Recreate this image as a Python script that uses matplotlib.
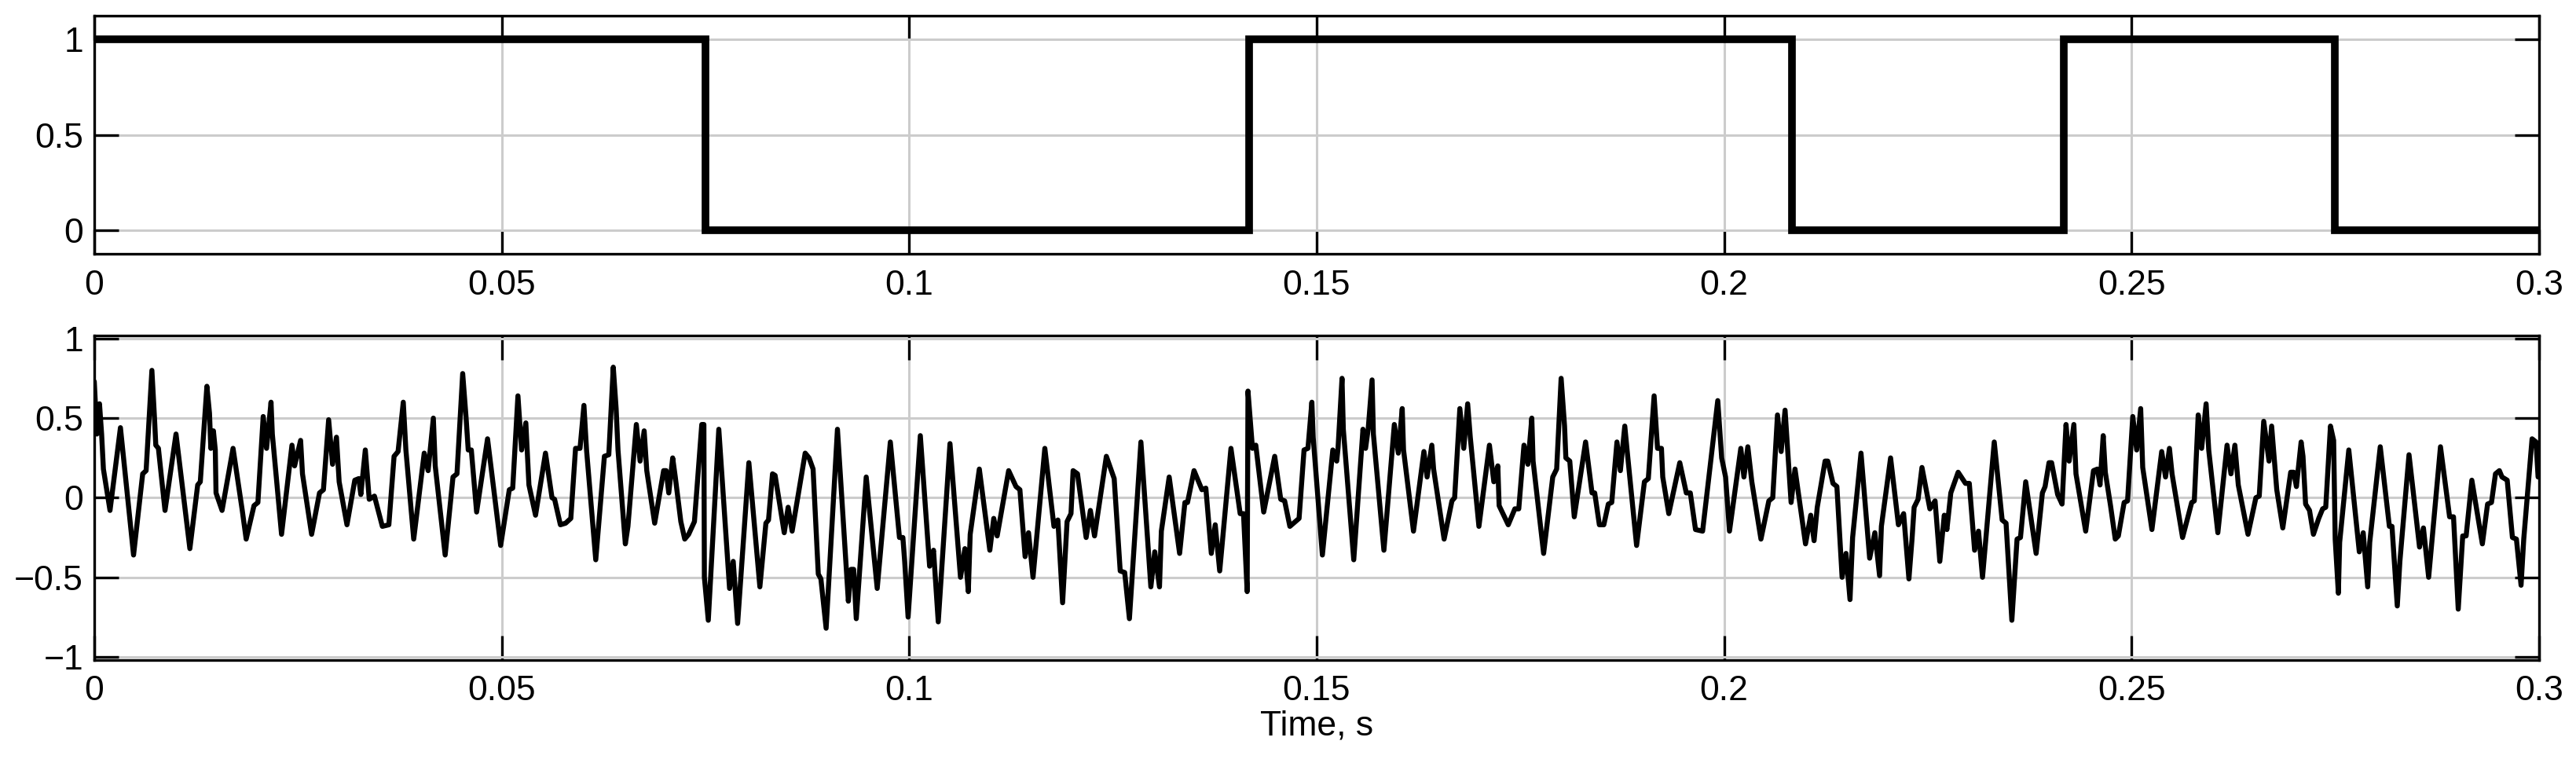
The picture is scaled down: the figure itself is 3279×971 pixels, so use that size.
import numpy as np
import matplotlib
matplotlib.use('Agg')
import matplotlib.pyplot as plt
import matplotlib.ticker as mticker

plt.rcParams.update({
    'font.family':      ['Liberation Sans', 'DejaVu Sans'],
    'font.size':        32,
    'axes.linewidth':   2.4,
    'axes.edgecolor':   'black',
    'grid.color':       '#cccccc',
    'grid.linewidth':   2.2,
    'xtick.direction':  'in',
    'ytick.direction':  'in',
    'xtick.major.size': 22,
    'ytick.major.size': 22,
    'xtick.major.width': 2.4,
    'ytick.major.width': 2.4,
})

# ─── Data ─────────────────────────────────────────────────────────────────────
# bit sequence (top panel), edges in seconds
bit_edges = [0, 0.075, 0.1417, 0.2083, 0.2417, 0.275, 0.3]
bit_levels = [1, 0, 1, 0, 1, 0]

# received signal (bottom panel), time in ms
sig_t_a = [0, 0.32, 0.64, 0.90, 1.12, 1.93, 3.21, 4.82, 5.94, 6.36,
           7.07, 7.39, 7.55, 7.87, 8.68, 10.03, 11.73, 12.69, 13.01, 13.82,
           14.14, 14.30, 14.62, 14.85, 14.94, 15.68, 17.03, 18.16, 18.64, 19.60,
           20.08, 20.73, 21.14, 21.69, 21.85, 22.98, 24.26, 24.58, 25.32, 25.55,
           26.67, 27.64, 28.12]
sig_v_a = [0.73, 0.40, 0.59, 0.40, 0.18, -0.08, 0.44, -0.36, 0.15, 0.17,
           0.80, 0.50, 0.33, 0.31, -0.08, 0.40, -0.32, 0.08, 0.10, 0.70,
           0.53, 0.31, 0.42, 0.30, 0.03, -0.08, 0.31, -0.08, -0.26, -0.05,
           -0.03, 0.51, 0.31, 0.60, 0.40, -0.23, 0.33, 0.20, 0.36, 0.15,
           -0.23, 0.03, 0.05]

sig_t_b = [28.76, 29.24, 29.72, 30.05, 31.01, 31.97, 32.46, 32.71, 33.26, 33.74,
           34.38, 35.35, 36.15, 36.79, 37.28, 37.92, 38.24, 39.20, 40.49, 40.97,
           41.61, 41.84, 43.06, 44.02, 44.51, 45.21, 45.63, 45.89, 46.27, 46.92,
           48.26, 49.87, 50.93, 51.35, 51.99, 52.44, 52.96, 53.34, 54.15, 55.37,
           56.17, 56.49, 57.20]
sig_v_b = [0.49, 0.21, 0.38, 0.10, -0.17, 0.11, 0.12, 0.02, 0.30, -0.01,
           0.01, -0.18, -0.17, 0.26, 0.29, 0.60, 0.30, -0.26, 0.28, 0.17,
           0.50, 0.20, -0.36, 0.13, 0.15, 0.78, 0.50, 0.30, 0.30, -0.09,
           0.37, -0.30, 0.05, 0.06, 0.64, 0.30, 0.47, 0.08, -0.11, 0.28,
           0.0, -0.01, -0.17]

sig_t_c = [57.84, 58.48, 59.06, 59.61, 60.09, 60.41, 61.54, 62.60, 63.14, 63.69,
           64.04, 64.27, 65.17, 65.49, 66.52, 66.98, 67.48, 67.80, 68.77, 69.87,
           70.18, 70.50, 70.98, 71.30, 71.98, 72.46, 72.94, 73.65, 74.55, 74.81,
           74.87, 75.35, 76.64, 77.96, 78.41, 78.95, 80.33, 81.68, 82.42, 82.74,
           83.23, 83.55, 84.67, 85.15, 85.64, 87.24]
sig_v_c = [-0.16, -0.13, 0.31, 0.31, 0.58, 0.30, -0.39, 0.26, 0.27, 0.82,
           0.56, 0.30, -0.29, -0.18, 0.46, 0.23, 0.42, 0.17, -0.16, 0.17,
           0.17, 0.03, 0.25, 0.13, -0.15, -0.26, -0.23, -0.15, 0.46, 0.46,
           -0.50, -0.77, 0.43, -0.57, -0.40, -0.79, 0.22, -0.56, -0.16, -0.14,
           0.15, 0.14, -0.22, -0.06, -0.21, 0.28]

sig_t_d = [87.72, 88.21, 88.85, 89.17, 89.81, 91.20, 92.54, 92.87, 93.19, 93.51,
           94.73, 96.08, 97.69, 98.81, 99.23, 99.45, 99.87, 101.37, 102.51, 102.99,
           103.57, 105.01, 106.30, 106.84, 107.26, 107.49, 108.61, 109.90, 110.38, 110.80,
           112.21, 113.11, 113.59, 114.23, 114.65, 115.20, 116.65, 117.77]
sig_v_d = [0.25, 0.18, -0.48, -0.51, -0.82, 0.43, -0.65, -0.45, -0.45, -0.76,
           0.13, -0.57, 0.35, -0.25, -0.25, -0.40, -0.75, 0.39, -0.43, -0.33,
           -0.78, 0.34, -0.50, -0.32, -0.59, -0.23, 0.18, -0.33, -0.13, -0.24,
           0.17, 0.07, 0.05, -0.37, -0.22, -0.50, 0.31, -0.18]

sig_t_e = [118.25, 118.83, 119.38, 119.86, 120.12, 120.66, 121.72, 122.24, 122.75, 124.20,
           125.16, 125.90, 126.45, 127.03, 128.44, 129.66, 130.14, 130.72, 130.95, 131.91,
           133.19, 133.84, 134.16, 134.96, 135.93, 136.41, 137.08, 137.56, 138.11, 139.49,
           140.62, 141.03, 141.48, 141.58, 142.13, 142.54, 143.51, 144.86, 145.60, 146.08,
           146.72, 147.85]
sig_v_e = [-0.14, -0.66, -0.15, -0.10, 0.17, 0.15, -0.25, -0.08, -0.24, 0.26,
           0.12, -0.46, -0.47, -0.76, 0.35, -0.56, -0.34, -0.56, -0.21, 0.13,
           -0.35, -0.03, -0.03, 0.17, 0.05, 0.06, -0.35, -0.17, -0.46, 0.31,
           -0.10, -0.10, -0.59, 0.67, 0.31, 0.33, -0.09, 0.26, -0.01, -0.02,
           -0.18, -0.13]

sig_t_f = [148.46, 148.94, 149.42, 149.58, 150.71, 151.99, 152.47, 152.63, 153.12, 153.28,
           154.56, 155.69, 156.01, 156.33, 156.81, 156.97, 158.26, 159.54, 160.03, 160.51,
           160.67, 161.89, 163.17, 163.56, 164.14, 164.36, 165.65, 166.61, 166.94, 167.58,
           168.06, 168.54, 168.86, 169.92, 171.21, 171.75, 172.24, 172.40, 173.52, 174.33,
           174.81, 175.45, 175.93, 176.41, 176.57, 177.86]
sig_v_f = [0.30, 0.31, 0.60, 0.38, -0.36, 0.30, 0.23, 0.31, 0.75, 0.43,
           -0.39, 0.43, 0.31, 0.43, 0.74, 0.40, -0.33, 0.46, 0.28, 0.56,
           0.30, -0.21, 0.29, 0.13, 0.33, 0.18, -0.26, -0.02, 0.0, 0.56,
           0.31, 0.59, 0.38, -0.18, 0.33, 0.10, 0.20, -0.05, -0.17, -0.07,
           -0.07, 0.33, 0.21, 0.50, 0.23, -0.35]

sig_t_g = [178.98, 179.46, 180.01, 180.43, 180.59, 181.07, 181.62, 183.01, 183.80, 184.13,
           184.70, 185.25, 185.80, 186.22, 186.86, 187.28, 187.82, 188.14, 189.27, 190.23,
           190.71, 191.42, 191.84, 192.32, 192.48, 193.22, 194.57, 195.37, 195.86, 196.50,
           197.37, 198.43, 199.23, 199.71, 200.19, 200.67, 202.06, 202.44, 202.92, 203.41,
           204.53, 205.50, 205.98, 206.56, 207.01, 207.49, 207.90, 208.23, 208.71]
sig_v_g = [0.13, 0.18, 0.75, 0.45, 0.25, 0.23, -0.12, 0.35, 0.03, 0.03,
           -0.17, -0.17, -0.04, -0.03, 0.35, 0.17, 0.45, 0.28, -0.30, 0.10,
           0.12, 0.64, 0.31, 0.31, 0.13, -0.10, 0.22, 0.03, 0.03, -0.20,
           -0.21, 0.26, 0.61, 0.25, 0.13, -0.21, 0.31, 0.13, 0.32, 0.10,
           -0.26, -0.02, 0.0, 0.52, 0.29, 0.55, 0.23, -0.03, 0.18]

sig_t_h = [210.00, 210.64, 211.05, 211.44, 212.40, 212.73, 213.37, 213.85, 214.49, 214.97,
           215.46, 215.78, 216.81, 217.87, 218.51, 219.09, 219.31, 220.44, 221.40, 222.04,
           222.69, 223.07, 223.33, 223.81, 224.29, 225.26, 225.90, 226.48, 227.03, 227.35,
           227.83, 228.73, 229.63, 230.10, 230.75, 231.23, 231.72, 233.16, 234.13, 234.61,
           235.32, 235.96, 236.38, 237.02, 238.30]
sig_v_h = [-0.29, -0.11, -0.27, -0.06, 0.23, 0.23, 0.09, 0.07, -0.50, -0.35,
           -0.64, -0.25, 0.28, -0.38, -0.22, -0.49, -0.18, 0.25, -0.17, -0.10,
           -0.51, -0.26, -0.06, -0.01, 0.19, -0.07, -0.02, -0.40, -0.11, -0.20,
           0.03, 0.16, 0.09, 0.09, -0.33, -0.21, -0.50, 0.35, -0.14, -0.16,
           -0.77, -0.26, -0.25, 0.10, -0.35]

sig_t_i = [239.07, 239.40, 239.88, 240.20, 240.94, 241.48, 241.97, 242.35, 242.93, 243.19,
           244.38, 245.34, 245.82, 246.14, 246.53, 246.79, 247.43, 248.01, 248.39, 249.10,
           249.52, 250.16, 250.64, 251.13, 251.38, 252.51, 253.71, 254.18, 254.66, 254.98,
           256.27, 257.39, 257.71, 258.19, 258.61, 259.16, 259.48, 260.60, 261.73, 262.21,
           262.69, 263.11, 264.30, 265.27, 265.68, 266.23, 266.88, 267.20]
sig_v_i = [0.03, 0.07, 0.22, 0.22, 0.02, -0.04, 0.46, 0.23, 0.46, 0.15,
           -0.21, 0.17, 0.18, 0.08, 0.39, 0.16, -0.05, -0.26, -0.24, -0.03,
           -0.02, 0.51, 0.30, 0.56, 0.19, -0.20, 0.29, 0.13, 0.31, 0.15,
           -0.25, -0.03, -0.02, 0.52, 0.31, 0.59, 0.30, -0.22, 0.33, 0.15,
           0.33, 0.08, -0.23, 0.0, 0.01, 0.48, 0.23, 0.45]

sig_t_j = [267.83, 268.57, 269.54, 269.92, 270.24, 270.82, 271.05, 271.37, 271.85, 272.33,
           272.98, 273.46, 273.84, 274.42, 274.81, 275.00, 275.39, 275.55, 276.67, 277.96,
           278.44, 278.99, 279.24, 280.53, 281.65, 281.97, 282.62, 282.94, 284.06, 285.35,
           285.83, 286.47, 287.92, 289.04, 289.52, 290.10, 290.65, 291.07, 291.77, 293.06,
           293.70, 294.18, 294.67, 295.15, 295.47, 296.11, 296.75, 297.24, 297.81, 298.14,
           299.16, 299.65, 299.90]
sig_v_j = [0.05, -0.19, 0.16, 0.16, 0.07, 0.35, 0.26, -0.04, -0.08, -0.23,
           -0.13, -0.07, -0.06, 0.45, 0.36, -0.26, -0.60, -0.28, 0.30, -0.34,
           -0.22, -0.56, -0.28, 0.32, -0.18, -0.18, -0.68, -0.40, 0.27, -0.31,
           -0.19, -0.50, 0.32, -0.12, -0.12, -0.70, -0.24, -0.24, 0.11, -0.29,
           -0.04, -0.03, 0.15, 0.17, 0.13, 0.11, -0.25, -0.26, -0.55, -0.26,
           0.37, 0.35, 0.13]

sig_t_ms = (sig_t_a + sig_t_b + sig_t_c + sig_t_d + sig_t_e +
            sig_t_f + sig_t_g + sig_t_h + sig_t_i + sig_t_j)
sig_v = (sig_v_a + sig_v_b + sig_v_c + sig_v_d + sig_v_e +
         sig_v_f + sig_v_g + sig_v_h + sig_v_i + sig_v_j)
sig_t = np.array(sig_t_ms) / 1000.0

x_ticks = [0, 0.05, 0.1, 0.15, 0.2, 0.25, 0.3]

# ─── Figure ───────────────────────────────────────────────────────────────────
fig = plt.figure(figsize=(32.79, 9.71), dpi=100)
ax1 = fig.add_axes([0.0366, 0.6670, 0.9490, 0.3124])
ax2 = fig.add_axes([0.0366, 0.1349, 0.9490, 0.4256])

fmt = mticker.FuncFormatter(lambda x, pos: f'{x:g}'.replace('-', '\u2212'))

ax1.stairs(bit_levels, bit_edges, baseline=None, color='black', linewidth=7.0, zorder=3)
ax1.set_ylim(-0.125, 1.125)
ax1.set_yticks([0, 0.5, 1])

ax2.plot(sig_t, sig_v, color='black', linewidth=4.6, zorder=3,
         solid_joinstyle='round', solid_capstyle='round')
ax2.set_ylim(-1.02, 1.02)
ax2.set_yticks([-1, -0.5, 0, 0.5, 1])
ax2.set_xlabel('Time, s', labelpad=2)

for ax in (ax1, ax2):
    ax.set_xlim(0, 0.3)
    ax.set_xticks(x_ticks)
    ax.xaxis.set_major_formatter(fmt)
    ax.yaxis.set_major_formatter(fmt)
    ax.grid(True, zorder=0)
    ax.set_axisbelow(True)
    ax.tick_params(top=True, right=True, which='major')
    ax.tick_params(axis='x', pad=14)
    ax.tick_params(axis='y', pad=10)

plt.savefig('out.png', dpi=100)
plt.close()
